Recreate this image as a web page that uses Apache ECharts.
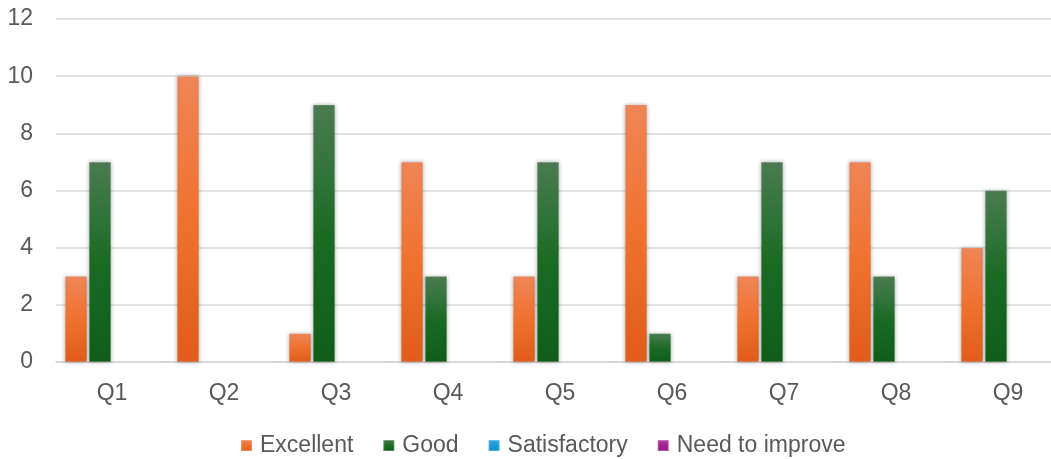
<!DOCTYPE html>
<html><head><meta charset="utf-8">
<script src="https://cdn.jsdelivr.net/npm/echarts@6/dist/echarts.min.js"></script>
<style>html,body{margin:0;padding:0;background:#fff;overflow:hidden;width:1051px;height:459px;}#c{width:1080px;height:459px;}</style>
</head><body><div id="c"></div>
<script>
const categories = ['Q1','Q2','Q3','Q4','Q5','Q6','Q7','Q8','Q9'];
const excellent = [3,10,1,7,3,9,3,7,4];
const good = [7,0,9,3,7,1,7,3,6];
const satisfactory = [0,0,0,0,0,0,0,0,0];
const needToImprove = [0,0,0,0,0,0,0,0,0];
const yTicks = [0,2,4,6,8,10,12];

function grad(top, mid, bottom){
  return new echarts.graphic.LinearGradient(0,0,0,1,[
    {offset:0,color:top},{offset:0.5,color:mid},{offset:1,color:bottom}]);
}
const colors = {
  Excellent: grad('#EE8658','#F0712E','#E05C1C'),
  Good: grad('#4C7C52','#1A6B24','#0E5E1A'),
  Satisfactory: grad('#3AAEE3','#1A9BD7','#0E8CC8'),
  'Need to improve': grad('#B04BA3','#A0208F','#8E1A80')
};
function ser(name, data){
  return {name, type:'bar', data, barWidth:22, barGap:'9%',
    itemStyle:{color:colors[name], borderColor:'rgba(255,255,255,0.25)', borderWidth:0.6,
      shadowBlur:4, shadowColor:'rgba(0,0,0,0.35)', shadowOffsetX:0, shadowOffsetY:0}};
}
const FONT = '"Liberation Sans", Arial, sans-serif';
const chart = echarts.init(document.getElementById('c'));
chart.setOption({
  animation:false,
  textStyle:{fontFamily:FONT},
  grid:{left:56, width:1008, top:19, height:343, containLabel:false},
  legend:{top:429, left:235, itemWidth:11, itemHeight:11, itemGap:29,
    icon:'rect', textStyle:{fontSize:23, color:'#595959', fontFamily:FONT, padding:[0,0,0,3]},
    data:['Excellent','Good','Satisfactory','Need to improve']},
  xAxis:{type:'category', data:categories,
    axisLine:{lineStyle:{color:'#D0D0D0', width:1.5}}, axisTick:{show:false},
    axisLabel:{fontSize:23, color:'#595959', margin:20, fontFamily:FONT}},
  yAxis:{type:'value', min:0, max:12, interval:2,
    axisLine:{show:false}, axisTick:{show:false},
    splitLine:{lineStyle:{color:'#D9D9D9', width:1.5}},
    axisLabel:{fontSize:23, color:'#595959', margin:23, fontFamily:FONT,
      formatter:v=>yTicks.includes(v)?String(v):''}},
  series:[ser('Excellent',excellent), ser('Good',good), ser('Satisfactory',satisfactory), ser('Need to improve',needToImprove)]
});
</script></body></html>
